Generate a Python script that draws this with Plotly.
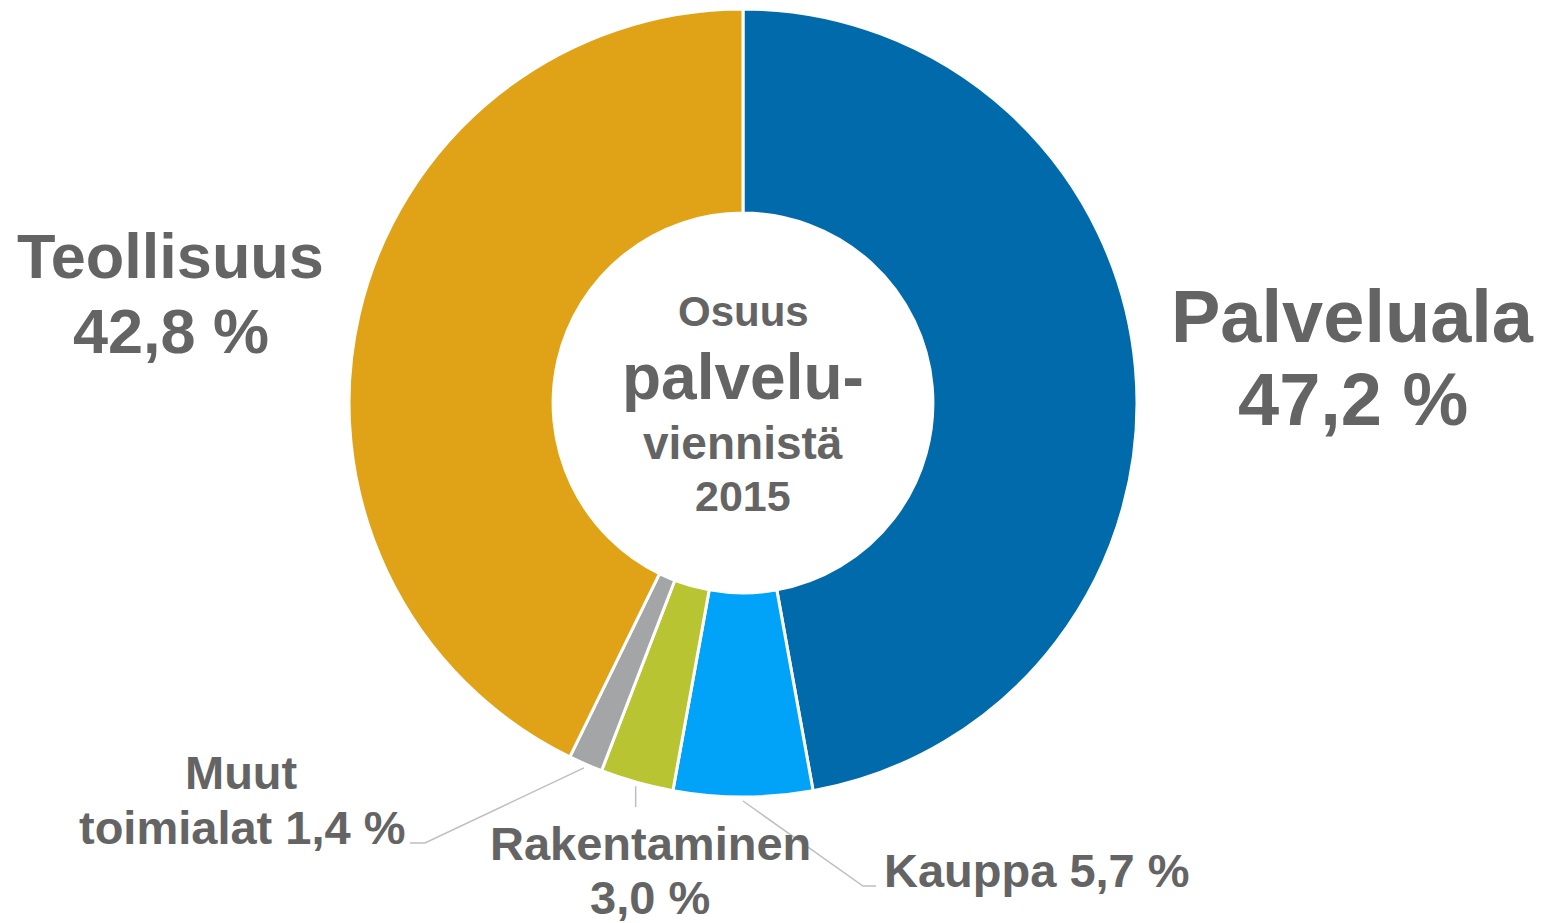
import math
import plotly.graph_objects as go

labels = ["Palveluala", "Kauppa", "Rakentaminen", "Muut toimialat", "Teollisuus"]
values = [47.2, 5.7, 3.0, 1.4, 42.8]
colors = ["#006AAA", "#00A3F8", "#B8C431", "#A4A5A7", "#E0A317"]
label_lines = [["Palveluala", "47,2 %"], ["Kauppa 5,7 %"], ["Rakentaminen", "3,0 %"],
               ["Muut", "toimialat 1,4 %"], ["Teollisuus", "42,8 %"]]
center_lines = ["Osuus", "palvelu-", "viennistä", "2015"]

W, H = 1544, 923
CX, CY, R = 743, 403, 394
TXT = "#646464"
FONT = "Liberation Sans, Arial, sans-serif"


def px(x):
    return x / W


def py(y):
    return 1 - y / H


fig = go.Figure(go.Pie(
    labels=labels, values=values, sort=False, direction="clockwise", rotation=0,
    hole=0.482, marker=dict(colors=colors, line=dict(color="white", width=3)),
    textinfo="none", hoverinfo="label+value", showlegend=False,
    domain=dict(x=[px(CX - R), px(CX + R)], y=[py(CY + R), py(CY - R)]),
))

ann = []


def add(text, x, y, size):
    ann.append(dict(text=text, x=px(x), y=py(y), xref="paper", yref="paper",
                    showarrow=False, xanchor="center", yanchor="middle",
                    font=dict(family=FONT, size=size, color=TXT, weight="bold")))


# outside labels (positions are layout)
add(label_lines[0][0], 1352, 316, 74)
add(label_lines[0][1], 1353, 400, 74)
add(label_lines[4][0], 170, 256, 63)
add(label_lines[4][1], 171, 331, 63)
add(label_lines[3][0], 241, 772, 47)
add(label_lines[3][1], 242, 827, 47)
add(label_lines[2][0], 650, 843, 47)
add(label_lines[2][1], 650, 897, 47)
add(label_lines[1][0], 1037, 870, 47)
# center text
add(center_lines[0], 743, 311, 42)
add(center_lines[1], 743, 377, 64)
add(center_lines[2], 743, 443, 46)
add(center_lines[3], 743, 496, 43)

# leader lines computed from slice mid-angles
total = sum(values)
cum = 0
mids = []
for v in values:
    a = math.radians((cum + v / 2) / total * 360)
    mids.append((CX + (R + 4) * math.sin(a), CY - (R + 4) * math.cos(a)))
    cum += v

ends = {
    1: [(863, 886), (876, 886)],
    2: [(None, 807)],
    3: [(425, 843), (410, 843)],
}
shapes = []
for i, pts in ends.items():
    sx, sy = mids[i]
    path = f"M {px(sx)} {py(sy)}"
    for (ex, ey) in pts:
        ex = sx if ex is None else ex
        path += f" L {px(ex)} {py(ey)}"
    shapes.append(dict(type="path", path=path, xref="paper", yref="paper",
                       line=dict(color="#BFBFBF", width=1.5)))

fig.update_layout(width=W, height=H, margin=dict(l=0, r=0, t=0, b=0),
                  paper_bgcolor="white", plot_bgcolor="white",
                  annotations=ann, shapes=shapes)
fig.write_html("out.html", config={"displayModeBar": False},
               post_script="document.body.style.margin='0';document.body.style.overflow='hidden';")
